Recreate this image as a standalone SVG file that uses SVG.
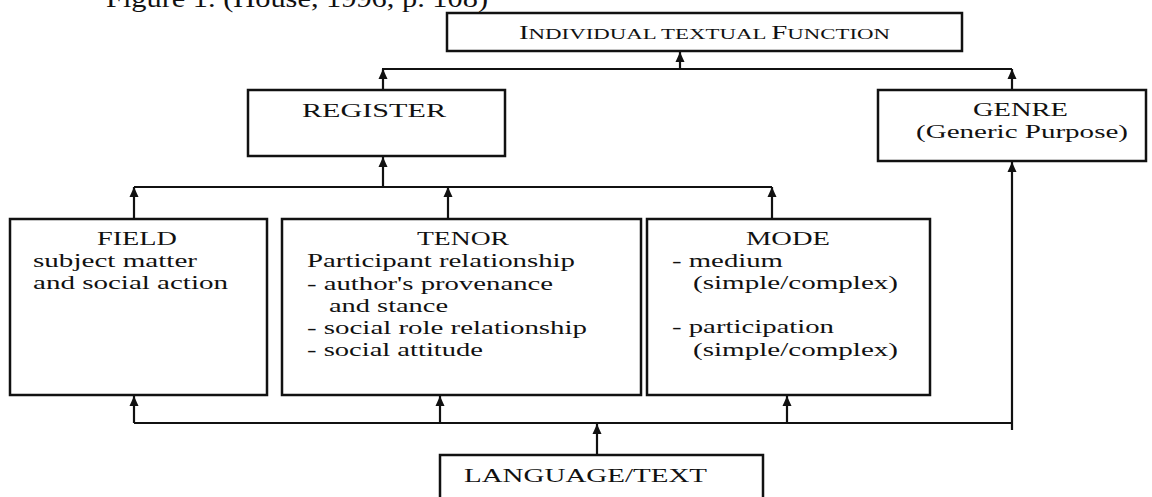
<svg xmlns="http://www.w3.org/2000/svg" width="1152" height="497" viewBox="0 0 1152 497">
<style>
.box{fill:#fff;stroke:#111;stroke-width:2.5}
.t{font-family:"Liberation Serif","Times New Roman",serif;font-size:19px;fill:#111}
.cap{font-family:"Liberation Serif","Times New Roman",serif;font-size:25px;fill:#111}
.ln{fill:none;stroke:#111;stroke-width:2.2}
</style>
<defs>
<marker id="ah" markerUnits="userSpaceOnUse" markerWidth="12" markerHeight="12" viewBox="0 0 12 12" refX="10" refY="6" orient="auto">
<path d="M0,1.5 L10,6 L0,10.5 Z" fill="#111"/>
</marker>
</defs>
<rect width="1152" height="497" fill="#fff"/>
<text class="cap" x="106" y="7" textLength="382" lengthAdjust="spacingAndGlyphs">Figure 1. (House, 1996, p. 108)</text>

<g id="connectors">
<polyline class="ln" points="382,69 1012,69"/>
<line class="ln" x1="680" y1="69" x2="680" y2="52" marker-end="url(#ah)"/>
<line class="ln" x1="383" y1="90" x2="383" y2="69" marker-end="url(#ah)"/>
<line class="ln" x1="1012" y1="90" x2="1012" y2="69" marker-end="url(#ah)"/>
<polyline class="ln" points="134,187 772,187"/>
<line class="ln" x1="383" y1="187" x2="383" y2="157" marker-end="url(#ah)"/>
<line class="ln" x1="134" y1="219" x2="134" y2="187" marker-end="url(#ah)"/>
<line class="ln" x1="448" y1="219" x2="448" y2="187" marker-end="url(#ah)"/>
<line class="ln" x1="772" y1="219" x2="772" y2="187" marker-end="url(#ah)"/>
<polyline class="ln" points="134,423 1012,423"/>
<line class="ln" x1="1012" y1="430" x2="1012" y2="162" marker-end="url(#ah)"/>
<line class="ln" x1="134" y1="423" x2="134" y2="396" marker-end="url(#ah)"/>
<line class="ln" x1="440" y1="423" x2="440" y2="396" marker-end="url(#ah)"/>
<line class="ln" x1="787" y1="423" x2="787" y2="396" marker-end="url(#ah)"/>
<line class="ln" x1="597" y1="455" x2="597" y2="424" marker-end="url(#ah)"/>
</g>

<g id="node-function">
<rect class="box" x="447" y="13" width="515" height="38"/>
<text class="t" x="519" y="39" textLength="371" lengthAdjust="spacingAndGlyphs">I<tspan font-size="15">NDIVIDUAL TEXTUAL </tspan>F<tspan font-size="15">UNCTION</tspan></text>
</g>

<g id="node-register">
<rect class="box" x="248" y="90" width="257" height="66"/>
<text class="t" x="302" y="117" textLength="144" lengthAdjust="spacingAndGlyphs">REGISTER</text>
</g>

<g id="node-genre">
<rect class="box" x="878" y="90" width="268" height="71"/>
<text class="t" x="973" y="116" textLength="95" lengthAdjust="spacingAndGlyphs">GENRE</text>
<text class="t" x="916" y="138" textLength="212" lengthAdjust="spacingAndGlyphs">(Generic Purpose)</text>
</g>

<g id="node-field">
<rect class="box" x="10" y="219" width="257" height="176"/>
<text class="t" x="97" y="245" textLength="80" lengthAdjust="spacingAndGlyphs">FIELD</text>
<text class="t" x="33" y="267" textLength="164" lengthAdjust="spacingAndGlyphs">subject matter</text>
<text class="t" x="33" y="289" textLength="195" lengthAdjust="spacingAndGlyphs">and social action</text>
</g>

<g id="node-tenor">
<rect class="box" x="282" y="219" width="359" height="176"/>
<text class="t" x="417" y="245" textLength="92" lengthAdjust="spacingAndGlyphs">TENOR</text>
<text class="t" x="307" y="267" textLength="268" lengthAdjust="spacingAndGlyphs">Participant relationship</text>
<text class="t" x="307" y="290" textLength="246" lengthAdjust="spacingAndGlyphs">- author's provenance</text>
<text class="t" x="329" y="312" textLength="119" lengthAdjust="spacingAndGlyphs">and stance</text>
<text class="t" x="307" y="334" textLength="280" lengthAdjust="spacingAndGlyphs">- social role relationship</text>
<text class="t" x="307" y="356" textLength="176" lengthAdjust="spacingAndGlyphs">- social attitude</text>
</g>

<g id="node-mode">
<rect class="box" x="647" y="219" width="283" height="176"/>
<text class="t" x="746" y="245" textLength="84" lengthAdjust="spacingAndGlyphs">MODE</text>
<text class="t" x="672" y="267" textLength="111" lengthAdjust="spacingAndGlyphs">- medium</text>
<text class="t" x="693" y="289" textLength="205" lengthAdjust="spacingAndGlyphs">(simple/complex)</text>
<text class="t" x="672" y="333" textLength="162" lengthAdjust="spacingAndGlyphs">- participation</text>
<text class="t" x="693" y="356" textLength="205" lengthAdjust="spacingAndGlyphs">(simple/complex)</text>
</g>

<g id="node-language">
<rect class="box" x="440" y="455" width="323" height="60"/>
<text class="t" x="464" y="482" textLength="243" lengthAdjust="spacingAndGlyphs">LANGUAGE/TEXT</text>
</g>
</svg>
